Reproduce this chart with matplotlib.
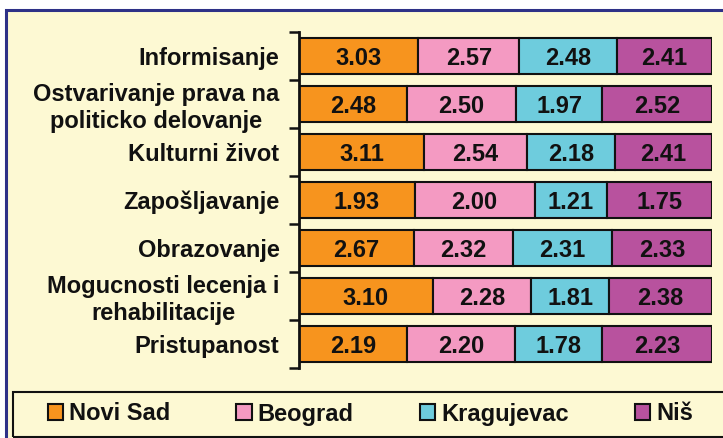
import numpy as np
import matplotlib
matplotlib.use("Agg")
import matplotlib.pyplot as plt
from matplotlib.patches import Rectangle

plt.rcParams['font.family'] = ['Liberation Sans', 'DejaVu Sans']
plt.rcParams['font.weight'] = 'bold'

categories = ["Informisanje",
              "Ostvarivanje prava na\npoliticko delovanje",
              "Kulturni život",
              "Zapošljavanje",
              "Obrazovanje",
              "Mogucnosti lecenja i\nrehabilitacije",
              "Pristupanost"]
series_names = ["Novi Sad", "Beograd", "Kragujevac", "Niš"]
novi_sad   = [3.03, 2.48, 3.11, 1.93, 2.67, 3.10, 2.19]
beograd    = [2.57, 2.50, 2.54, 2.00, 2.32, 2.28, 2.20]
kragujevac = [2.48, 1.97, 2.18, 1.21, 2.31, 1.81, 1.78]
nis        = [2.41, 2.52, 2.41, 1.75, 2.33, 2.38, 2.23]
colors = ["#F7941E", "#F49AC2", "#6ECCDD", "#B8529E"]

W, H = 723, 438
fig = plt.figure(figsize=(W / 100, H / 100), dpi=100)
fig.patch.set_facecolor('white')

# cream panel with navy border (extends beyond right/bottom edge)
fig.add_artist(Rectangle((6 / W, -0.2), 1.3, 1.2 - 10 / H,
                         transform=fig.transFigure, facecolor="#FDF9D3",
                         edgecolor="#2E3187", lw=2.2, zorder=0))
# legend box
fig.add_artist(Rectangle((13 / W, 1 - 437 / H), 1.2, 45 / H,
                         transform=fig.transFigure, facecolor="none",
                         edgecolor="#111111", lw=1.5, zorder=1))

ax = fig.add_axes([299 / W, 1 - 368 / H, (712 - 299) / W, (368 - 32) / H])
ax.set_facecolor('none')

data = np.array([novi_sad, beograd, kragujevac, nis])
totals = data.sum(axis=0)
y = np.arange(len(categories))
left = np.zeros(len(categories))
handles = []
for vals, name, col in zip(data, series_names, colors):
    frac = vals / totals
    bars = ax.barh(y, frac, left=left, height=0.73, color=col,
                   edgecolor="#111111", linewidth=1.5, label=name)
    anns = ax.bar_label(bars, labels=[f"{v:.2f}" for v in vals], label_type='center',
                        fontsize=17, fontweight='bold', color='#111111')
    for a in anns:
        a.xyann = (0, -2)
    left += frac
    handles.append(bars)

ax.set_xlim(0, 1)
ax.set_ylim(len(categories) - 0.5, -0.5)
for s in ['top', 'right', 'bottom']:
    ax.spines[s].set_visible(False)
ax.spines['left'].set_linewidth(2)
ax.spines['left'].set_color('#111111')
ax.set_xticks([])
ax.set_yticks(np.arange(-0.5, len(categories), 1))
ax.set_yticklabels([])
ax.tick_params(axis='y', which='major', length=7, width=1.8, color='#111111')
ax.set_yticks(y, minor=True)
ax.set_yticklabels(categories, minor=True, fontsize=17, fontweight='bold',
                   multialignment='center', color='#111111')
ax.tick_params(axis='y', which='minor', length=0, pad=14)

leg = fig.legend(handles=handles, labels=series_names, ncol=4,
                 loc='center left', bbox_to_anchor=(36 / W, 1 - 414 / H),
                 frameon=False, borderpad=0, handlelength=0.65,
                 handleheight=0.65, handletextpad=0.25, columnspacing=2.8,
                 prop={'size': 17, 'weight': 'bold'})
for t in leg.get_texts():
    t.set_color('#111111')

fig.savefig("out.png", dpi=100, facecolor='white')
